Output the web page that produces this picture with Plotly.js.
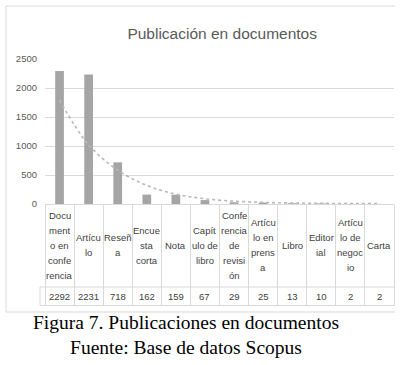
<!DOCTYPE html>
<html>
<head>
<meta charset="utf-8">
<script src="https://cdn.plot.ly/plotly-3.0.1.min.js"></script>
<style>html,body{margin:0;padding:0;background:#fff;}#chart{width:404px;height:365px;}</style>
</head>
<body>
<div id="chart"></div>
<script>
const categories = ["Documento en conferencia","Artículo","Reseña","Encuesta corta","Nota","Capítulo de libro","Conferencia de revisión","Artículo en prensa","Libro","Editorial","Artículo de negocio","Carta"];
const tickLabels = ["Docu<br>ment<br>o en<br>confe<br>rencia","Artícu<br>lo","Reseñ<br>a","Encue<br>sta<br>corta","Nota","Capít<br>ulo de<br>libro","Confe<br>rencia<br>de<br>revisi<br>ón","Artícu<br>lo en<br>prens<br>a","Libro","Editor<br>ial","Artícu<br>lo de<br>negoc<br>io","Carta"];
const values = [2292, 2231, 718, 162, 159, 67, 29, 25, 13, 10, 2, 2];
const trendValues = [1790, 1020, 585, 320, 170, 90, 48, 28, 17, 11, 8, 6];
const yTicks = [0, 500, 1000, 1500, 2000, 2500];
const caption = "Figura 7. Publicaciones en documentos<br>Fuente: Base de datos Scopus";

const sans = "Liberation Sans, Arial, sans-serif";
const labelFont = {family: sans, size: 9.5, color: "#404040"};
const lineStep = 15;

const annotations = [];
categories.forEach((c, i) => {
  const lines = tickLabels[i].split("<br>");
  const n = lines.length;
  lines.forEach((ln, k) => {
    annotations.push({x: c, xref: "x", y: -0.2862, yref: "paper", text: ln, showarrow: false,
      xanchor: "center", yanchor: "middle", align: "center", font: labelFont,
      yshift: ((n - 1) / 2 - k) * lineStep});
  });
  annotations.push({x: c, xref: "x", y: -0.6345, yref: "paper", text: String(values[i]), showarrow: false,
    xanchor: "center", yanchor: "middle", font: labelFont});
});
annotations.push({x: 0.4026, xref: "paper", y: -0.9034, yref: "paper", text: caption,
  showarrow: false, xanchor: "center", yanchor: "middle", align: "center",
  font: {family: "Liberation Serif, Times New Roman, serif", size: 19.5, color: "#000"}});

const lineC = "#d9d9d9";
const shapes = [
  {type: "line", xref: "paper", yref: "paper", x0: -0.0143, x1: 1.0, y0: -0.5724, y1: -0.5724, line: {color: lineC, width: 1}},
  {type: "line", xref: "paper", yref: "paper", x0: -0.0143, x1: 1.0, y0: -0.70, y1: -0.70, line: {color: lineC, width: 1}},
  {type: "line", xref: "paper", yref: "paper", x0: -0.0143, x1: -0.0143, y0: -0.5724, y1: -0.70, line: {color: lineC, width: 1}},
  {type: "line", xref: "paper", yref: "paper", x0: -0.1117, x1: 1.003, y0: 1.3655, y1: 1.3655, line: {color: lineC, width: 1}},
  {type: "line", xref: "paper", yref: "paper", x0: -0.1117, x1: 1.003, y0: -0.7448, y1: -0.7448, line: {color: lineC, width: 1}},
  {type: "line", xref: "paper", yref: "paper", x0: -0.1117, x1: -0.1117, y0: 1.3655, y1: -0.7448, line: {color: lineC, width: 1}}
];

const data = [
  {type: "bar", x: categories, y: values, marker: {color: "#a5a5a5"}, width: 0.3, hoverinfo: "none"},
  {type: "scatter", mode: "lines", x: categories, y: trendValues, line: {color: "#b8b8b8", width: 1.6, dash: "dot", shape: "spline"}, hoverinfo: "none"}
];

const layout = {
  width: 404, height: 365,
  margin: {l: 45, r: 10, t: 59, b: 161},
  paper_bgcolor: "#fff", plot_bgcolor: "#fff",
  showlegend: false,
  title: {text: "Publicación en documentos", x: 0.55, xanchor: "center", y: 0.909, yanchor: "middle",
    font: {family: sans, size: 15.5, color: "#595959"}},
  xaxis: {type: "category", showticklabels: false, showgrid: false, zeroline: false,
    showline: true, linecolor: lineC, linewidth: 1,
    ticks: "outside", tickson: "boundaries", ticklen: 101, tickcolor: lineC, tickwidth: 1,
    range: [-0.5, 11.5]},
  yaxis: {range: [0, 2500], tickvals: yTicks, ticktext: yTicks.map(String), showgrid: true, gridcolor: lineC, gridwidth: 1,
    zeroline: false, showline: false, ticks: "", ticklabelstandoff: 7,
    tickfont: {family: sans, size: 9.5, color: "#595959"}},
  annotations: annotations,
  shapes: shapes,
  bargap: 0.7
};

Plotly.newPlot("chart", data, layout, {staticPlot: true, displayModeBar: false});
</script>
</body>
</html>
